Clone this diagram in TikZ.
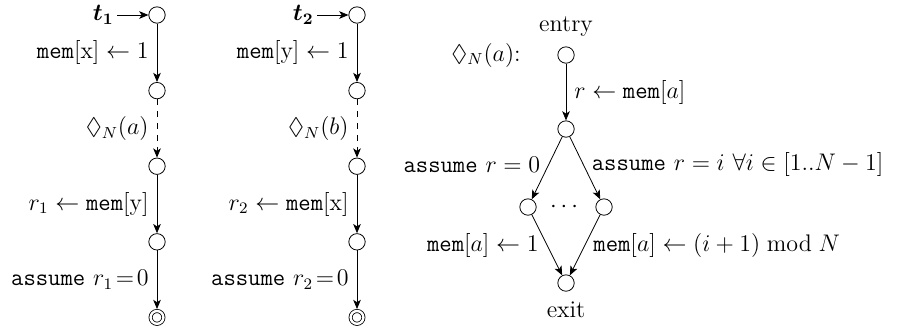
\documentclass[12pt,tikz,border=0pt]{standalone}
\usepackage{amsmath,amssymb}
\usetikzlibrary{arrows.meta,positioning}

\begin{document}
\begin{tikzpicture}[
    node distance=37.8pt, on grid,
    >={Stealth[length=4.6pt,width=3.8pt,inset=1.2pt]},
    loc/.style={draw,circle,minimum size=8.2pt,inner sep=0pt},
    final/.style={loc,double,double distance=1.2pt,minimum size=6.4pt,outer sep=1pt},
    lbl/.style={inner sep=4pt}
  ]
  \useasboundingbox (0,0) rectangle (448.5pt,-164.5pt);

  % the two threads
  \foreach \i/\px/\wr/\sb/\rd in {1/78.5/x/a/y,2/178.5/y/b/x}{
    \node[loc] (t\i0) at (\px pt,-7.5pt) {};
    \node[loc,below=of t\i0] (t\i1) {};
    \node[loc,below=of t\i1] (t\i2) {};
    \node[loc,below=of t\i2] (t\i3) {};
    \node[final,below=of t\i3] (t\i4) {};
    \coordinate[left=20pt of t\i0] (in\i);
    \draw[->] (in\i) node[left,inner sep=1.5pt] (name\i) {$\boldsymbol{t_\i}$} -- (t\i0);
    \draw[->] (t\i0) -- node[lbl,left] (write\i) {$\texttt{mem}[\mathrm{\wr}]\leftarrow 1$} (t\i1);
    \draw[->,dashed] (t\i1) -- node[lbl,left] (sub\i) {$\Diamond_N(\sb)$} (t\i2);
    \draw[->] (t\i2) -- node[lbl,left] (read\i) {$r_\i\leftarrow\texttt{mem}[\mathrm{\rd}]$} (t\i3);
    \draw[->] (t\i3) -- node[lbl,left] (check\i) {$\texttt{assume}~r_\i\!=\!0$} (t\i4);
  }

  % the subroutine
  \node[loc,label={[label distance=1pt]above:entry}] (entry) at (283pt,-27.5pt) {};
  \node[left=40pt of entry] (head) {$\Diamond_N(a)$:};
  \node[loc,below=37pt of entry] (split) {};
  \node[loc,below left=39pt and 19pt of split] (zero) {};
  \node[loc,below right=39pt and 19pt of split] (other) {};
  \node[loc,below=77pt of split,label={[label distance=1pt]below:exit}] (exit) {};
  \path (zero) -- node (dots) {$\cdots$} (other);

  \draw[->] (entry) -- node[lbl,right] (load) {$r\leftarrow\texttt{mem}[a]$} (split);
  \draw[->] (split) -- node[lbl,left,pos=0.45] (iszero) {$\texttt{assume}~r=0$} (zero);
  \draw[->] (split) -- node[lbl,right,pos=0.45] (isother) {$\texttt{assume}~r=i~\forall i\in[1..N-1]$} (other);
  \draw[->] (zero) -- node[lbl,left] (setone) {$\texttt{mem}[a]\leftarrow 1$} (exit);
  \draw[->] (other) -- node[lbl,right] (setnext) {$\texttt{mem}[a]\leftarrow(i+1)\bmod N$} (exit);
\end{tikzpicture}
\end{document}
